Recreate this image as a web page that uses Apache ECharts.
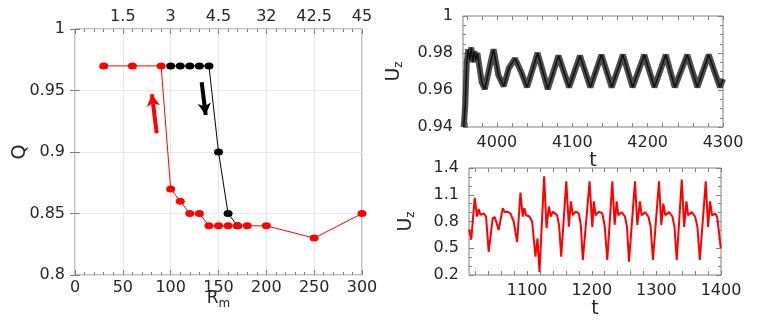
<!DOCTYPE html>
<html>
<head>
<meta charset="utf-8">
<script src="https://cdn.jsdelivr.net/npm/echarts@6/dist/echarts.min.js"></script>
<style>
  html, body { margin: 0; padding: 0; background: #fff; }
  #chart { width: 763px; height: 327px; }
</style>
</head>
<body>
<div id="chart"></div>
<script>
// left panel: Q against Rm (red = increasing Rm, black = decreasing)
var redRm = [30, 60, 90, 100, 110, 120, 130, 140, 150, 160, 170, 180, 200, 250, 300];
var redQ = [0.97, 0.97, 0.97, 0.87, 0.86, 0.85, 0.85, 0.84, 0.84, 0.84, 0.84, 0.84, 0.84, 0.83, 0.85];
var blackRm = [100, 110, 120, 130, 140, 150, 160, 170];
var blackQ = [0.97, 0.97, 0.97, 0.97, 0.97, 0.90, 0.85, 0.84];
// top axis labels of the left panel, at Rm = 50..300
var topTickRm = [50, 100, 150, 200, 250, 300];
var topTickLabels = ['1.5', '3', '4.5', '32', '42.5', '45'];
// arrows [tail, tip] in (Rm, Q)
var redArrow = [[85.4, 0.9152], [80.4, 0.9470]];
var blackArrow = [[132.4, 0.9567], [136.6, 0.9300]];

// upper right panel: Uz(t)
var upT = [3956, 3958, 3960, 3962, 3964, 3966, 3968, 3970, 3972, 3974, 3977, 3980, 3984,
  3990, 3995.6, 4002, 4009, 4016, 4024, 4032, 4040, 4054, 4067.5, 4081.7, 4095.8, 4110.2,
  4124, 4138.7, 4152.3, 4167.2, 4180, 4195.6, 4209, 4224.1, 4236, 4252.6, 4266, 4281, 4296, 4300];
var upU = [0.940, 0.952, 0.975, 0.982, 0.976, 0.983, 0.975, 0.981, 0.976, 0.980, 0.972, 0.964, 0.9605,
  0.972, 0.982, 0.968, 0.962, 0.972, 0.977, 0.970, 0.9615, 0.980, 0.9605, 0.9785, 0.9615, 0.9785,
  0.9615, 0.979, 0.9615, 0.979, 0.9615, 0.979, 0.9615, 0.979, 0.9615, 0.979, 0.9615, 0.979, 0.9615, 0.966];
var upTicks = [3960, 3980, 4000, 4020, 4040, 4060, 4080, 4100, 4120, 4140, 4160, 4180, 4200, 4220, 4240, 4260, 4280, 4300];
var upLabels = [4000, 4100, 4200, 4300];

// lower right panel: Uz(t)
var lowT = [1010, 1013.6, 1018.8, 1022.5, 1025, 1027.6, 1032.7, 1036.4, 1040.5, 1046.7, 1049.8, 1056,
  1062.2, 1065.3, 1068.9, 1074.1, 1079.2, 1084.5, 1089.6, 1093.2, 1095.8, 1098.3, 1103.6, 1107.7,
  1112.9, 1116, 1119.1, 1126.3, 1130, 1133.5, 1136.6, 1139.7, 1146.5, 1149.5, 1152.7, 1160.5,
  1164.6, 1167.7, 1170.8, 1175, 1180, 1183, 1186.2, 1196.6, 1200.8, 1203.3, 1205.9, 1211, 1216.3,
  1220, 1224, 1231.8, 1235.4, 1238.5, 1241.1, 1246.2, 1251.4, 1254.5, 1257.6, 1266.9, 1270.5,
  1274.6, 1277.2, 1282.4, 1287.5, 1291, 1294.7, 1304, 1307.6, 1310.7, 1313.8, 1319.5, 1324.8,
  1328, 1331.5, 1339.3, 1342.9, 1346.5, 1349.1, 1354.8, 1359.9, 1363.5, 1367.2, 1376.4, 1380,
  1383.1, 1386.2, 1391.3, 1394.3, 1399.6];
var lowU = [0.71, 0.605, 1.065, 0.856, 0.94, 0.875, 0.89, 0.856, 0.46, 0.837, 0.85, 0.706,
  0.95, 0.905, 0.91, 0.89, 0.80, 0.57, 1.125, 0.856, 0.95, 0.87, 0.856, 0.80,
  0.405, 0.61, 0.235, 1.306, 0.725, 0.968, 0.856, 0.91, 0.87, 0.75, 0.405, 1.25,
  0.743, 1.025, 0.87, 0.91, 0.89, 0.76, 0.368, 1.25, 0.74, 1.025, 0.87, 0.91, 0.89,
  0.75, 0.368, 1.25, 0.763, 1.025, 0.87, 0.905, 0.856, 0.74, 0.35, 1.25, 0.76,
  1.025, 0.87, 0.905, 0.856, 0.75, 0.368, 1.25, 0.76, 1.0, 0.87, 0.905, 0.856,
  0.74, 0.368, 1.27, 0.74, 1.025, 0.87, 0.905, 0.856, 0.74, 0.368, 1.25, 0.74,
  1.025, 0.87, 0.89, 0.84, 0.5];
var lowTicks = [1020, 1040, 1060, 1080, 1100, 1120, 1140, 1160, 1180, 1200, 1220, 1240, 1260, 1280, 1300, 1320, 1340, 1360, 1380, 1400];
var lowLabels = [1100, 1200, 1300, 1400];

var FONT = 'DejaVu Sans';
var TXT = '#262626';
var FRAME = '#808080';

function zip(a, b) {
  return a.map(function (v, i) { return [v, b[i]]; });
}
function plain(v) { return String(v); }

function subRich(size) {
  return {
    m: { fontFamily: FONT, fontSize: size, color: TXT, lineHeight: 22 },
    s: { fontFamily: FONT, fontSize: 12, color: TXT, lineHeight: 12, padding: [15, 0, 0, 0], verticalAlign: 'bottom' }
  };
}

// axis with ticks inside and no line (frame comes from the grid)
function axis(extra) {
  var a = {
    type: 'value',
    axisLine: { show: false },
    axisTick: { show: true, inside: true, length: 5, lineStyle: { color: FRAME } },
    splitLine: { show: false },
    axisLabel: { fontFamily: FONT, fontSize: 16, color: TXT, margin: 10 }
  };
  for (var k in extra) a[k] = extra[k];
  return a;
}

var myChart = echarts.init(document.getElementById('chart'));

var option = {
  animation: false,
  grid: [
    { left: 75, top: 29, width: 287, height: 246, show: true, borderColor: FRAME, borderWidth: 1, outerBoundsMode: 'none' },
    { left: 463, top: 16, width: 260, height: 111, show: true, borderColor: FRAME, borderWidth: 1, outerBoundsMode: 'none' },
    { left: 469, top: 168, width: 252, height: 107, show: true, borderColor: FRAME, borderWidth: 1, outerBoundsMode: 'none' }
  ],
  xAxis: [
    axis({
      gridIndex: 0, min: 0, max: 300, interval: 50,
      minorTick: { show: true, splitNumber: 5, length: 3, lineStyle: { color: FRAME } },
      splitLine: { show: true, lineStyle: { color: '#e8e8e8' } },
      axisLabel: { fontFamily: FONT, fontSize: 16, color: TXT, margin: 5 },
      name: '{m|R}{s|m}', nameLocation: 'middle', nameGap: 13, nameMoveOverlap: false,
      nameTextStyle: { rich: subRich(17) }
    }),
    axis({
      gridIndex: 0, position: 'top', min: 0, max: 300, interval: 50,
      minorTick: { show: true, splitNumber: 5, length: 3, lineStyle: { color: FRAME } },
      axisLabel: {
        fontFamily: FONT, fontSize: 16, color: TXT, margin: 4,
        customValues: topTickRm,
        formatter: function (v) { var i = topTickRm.indexOf(v); return i < 0 ? '' : topTickLabels[i]; }
      }
    }),
    axis({
      gridIndex: 1, min: 3955, max: 4300,
      axisTick: { show: true, inside: true, length: 4, customValues: upTicks, lineStyle: { color: FRAME } },
      axisLabel: { fontFamily: FONT, fontSize: 16, color: TXT, margin: 8, customValues: upLabels, formatter: plain },
      name: 't', nameLocation: 'middle', nameGap: 23,
      nameTextStyle: { fontFamily: FONT, fontSize: 19, color: TXT }
    }),
    axis({
      gridIndex: 1, position: 'top', min: 3955, max: 4300,
      axisTick: { show: true, inside: true, length: 4, customValues: upTicks, lineStyle: { color: FRAME } },
      axisLabel: { show: false }
    }),
    axis({
      gridIndex: 2, min: 1010, max: 1400,
      axisTick: { show: true, inside: true, length: 4, customValues: lowTicks, lineStyle: { color: FRAME } },
      axisLabel: { fontFamily: FONT, fontSize: 16, color: TXT, margin: 8, customValues: lowLabels, formatter: plain },
      name: 't', nameLocation: 'middle', nameGap: 22,
      nameTextStyle: { fontFamily: FONT, fontSize: 19, color: TXT }
    }),
    axis({
      gridIndex: 2, position: 'top', min: 1010, max: 1400,
      axisTick: { show: true, inside: true, length: 4, customValues: lowTicks, lineStyle: { color: FRAME } },
      axisLabel: { show: false }
    })
  ],
  yAxis: [
    axis({
      gridIndex: 0, min: 0.8, max: 1, interval: 0.05,
      splitLine: { show: true, lineStyle: { color: '#e8e8e8' } },
      name: 'Q', nameLocation: 'middle', nameGap: 45, nameMoveOverlap: false,
      nameTextStyle: { fontFamily: FONT, fontSize: 19, color: TXT }
    }),
    axis({ gridIndex: 0, position: 'right', min: 0.8, max: 1, interval: 0.05, axisLabel: { show: false } }),
    axis({
      gridIndex: 1, min: 0.94, max: 1, interval: 0.02,
      minorTick: { show: true, splitNumber: 4, length: 3, lineStyle: { color: FRAME } },
      name: '{m|U}{s|z}', nameLocation: 'middle', nameGap: 58,
      nameTextStyle: { rich: subRich(19) }
    }),
    axis({
      gridIndex: 1, position: 'right', min: 0.94, max: 1, interval: 0.02,
      minorTick: { show: true, splitNumber: 4, length: 3, lineStyle: { color: FRAME } },
      axisLabel: { show: false }
    }),
    axis({
      gridIndex: 2, min: 0.2, max: 1.4, interval: 0.3,
      minorTick: { show: true, splitNumber: 3, length: 3, lineStyle: { color: FRAME } },
      name: '{m|U}{s|z}', nameLocation: 'middle', nameGap: 52,
      nameTextStyle: { rich: subRich(19) }
    }),
    axis({
      gridIndex: 2, position: 'right', min: 0.2, max: 1.4, interval: 0.3,
      minorTick: { show: true, splitNumber: 3, length: 3, lineStyle: { color: FRAME } },
      axisLabel: { show: false }
    })
  ],
  series: [
    {
      type: 'line', xAxisIndex: 0, yAxisIndex: 0,
      data: zip(blackRm, blackQ),
      symbol: 'circle', symbolSize: [9, 7],
      itemStyle: { color: '#000' }, lineStyle: { color: '#000', width: 1 },
      markLine: {
        silent: true, symbol: ['none', 'arrow'], symbolSize: [10, 12],
        label: { show: false },
        lineStyle: { color: '#000', width: 4, type: 'solid' },
        data: [[{ coord: blackArrow[0] }, { coord: blackArrow[1] }]]
      }
    },
    {
      type: 'line', xAxisIndex: 0, yAxisIndex: 0,
      data: zip(redRm, redQ),
      symbol: 'circle', symbolSize: [9, 7],
      itemStyle: { color: '#ff0000' }, lineStyle: { color: '#ff0000', width: 1 },
      markLine: {
        silent: true, symbol: ['none', 'arrow'], symbolSize: [10, 12],
        label: { show: false },
        lineStyle: { color: '#ff0000', width: 4, type: 'solid' },
        data: [[{ coord: redArrow[0] }, { coord: redArrow[1] }]]
      }
    },
    {
      type: 'line', xAxisIndex: 2, yAxisIndex: 2,
      data: zip(upT, upU), showSymbol: false,
      lineStyle: { color: '#3a3a3a', width: 6, opacity: 0.9 }
    },
    {
      type: 'line', xAxisIndex: 2, yAxisIndex: 2,
      data: zip(upT, upU), showSymbol: false,
      lineStyle: { color: '#111', width: 1.5 }
    },
    {
      type: 'line', xAxisIndex: 4, yAxisIndex: 4,
      data: zip(lowT, lowU), showSymbol: false,
      lineStyle: { color: '#ff0000', width: 2 }
    }
  ]
};

myChart.setOption(option);
window.addEventListener('resize', function () { myChart.resize(); });
</script>
</body>
</html>
